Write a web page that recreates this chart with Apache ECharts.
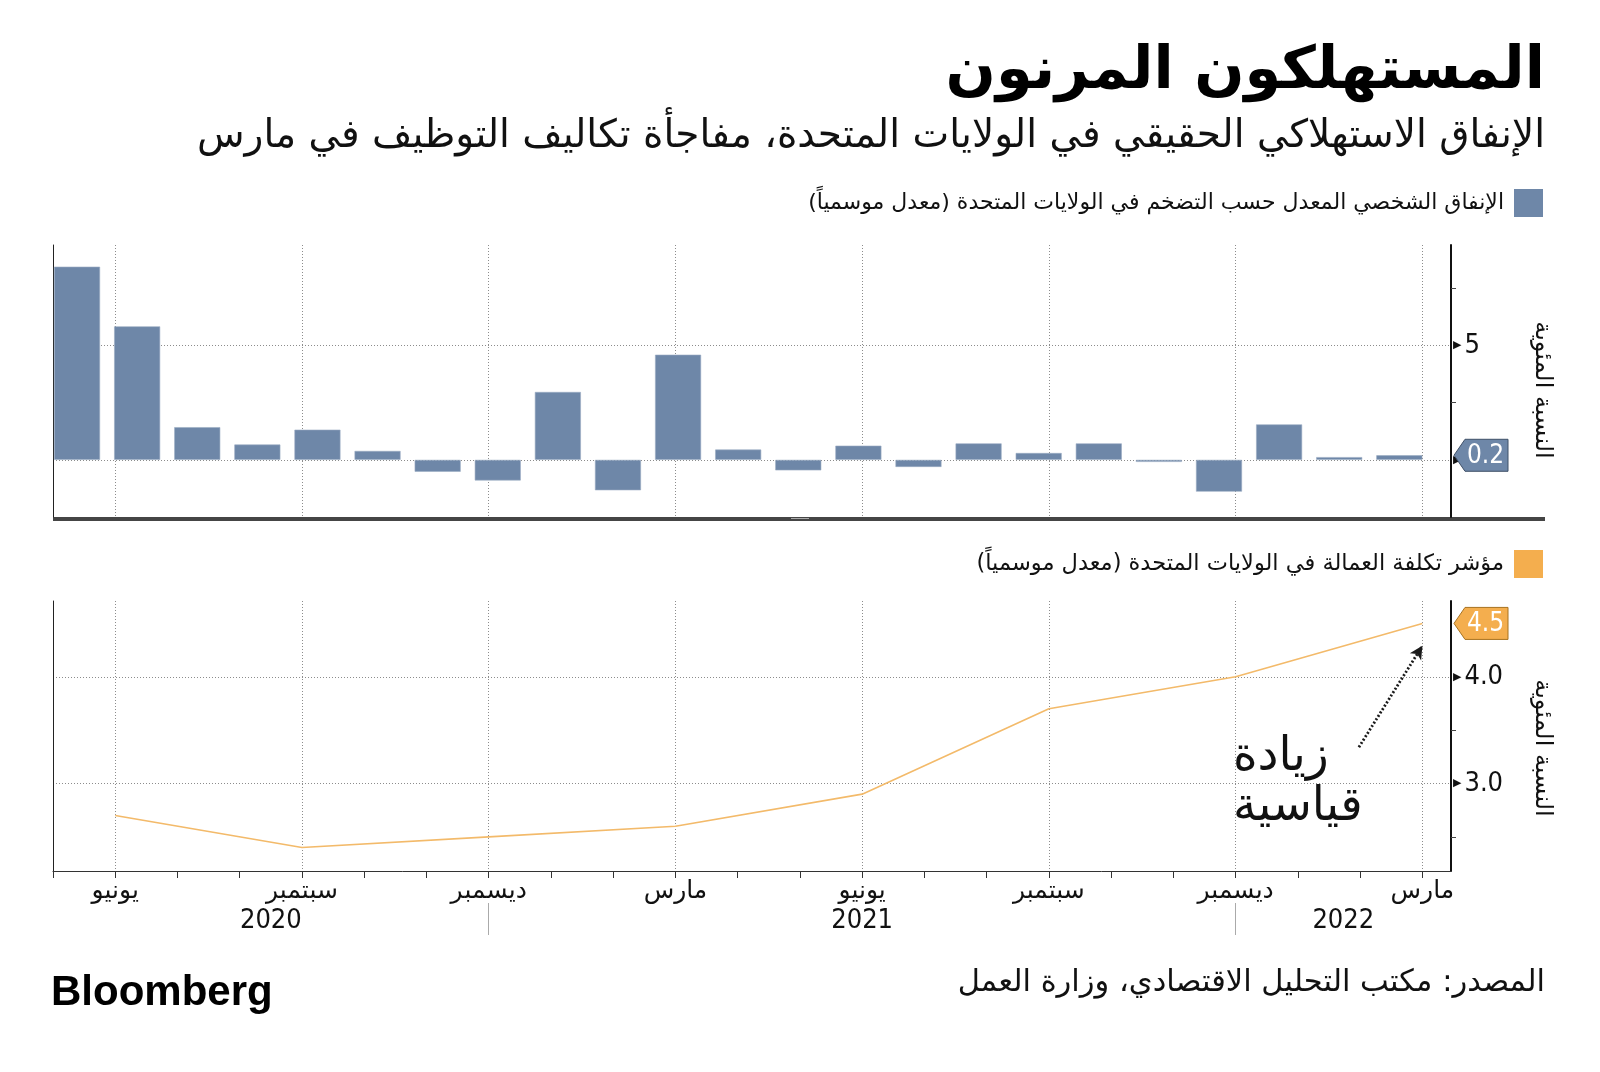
<!DOCTYPE html>
<html><head><meta charset="utf-8">
<script src="https://cdn.jsdelivr.net/npm/echarts@6/dist/echarts.min.js"></script>
<style>html,body{margin:0;padding:0;background:#fff}#c{width:1600px;height:1072px}</style>
</head><body><div id="c" dir="rtl"></div>
<script>
// ---------------- data ----------------
const barMonths = ['2020-05','2020-06','2020-07','2020-08','2020-09','2020-10','2020-11','2020-12',
  '2021-01','2021-02','2021-03','2021-04','2021-05','2021-06','2021-07','2021-08','2021-09','2021-10',
  '2021-11','2021-12','2022-01','2022-02','2022-03'];
const pceValues = [8.45, 5.84, 1.43, 0.67, 1.32, 0.39, -0.52, -0.90, 2.97, -1.33, 4.60, 0.45,
  -0.46, 0.62, -0.31, 0.72, 0.30, 0.72, -0.09, -1.39, 1.55, 0.12, 0.20];
const eciMonthIndex = [1, 4, 7, 10, 13, 16, 19, 22];   // months after May 2020
const eciValues = [2.7, 2.4, 2.5, 2.6, 2.9, 3.7, 4.0, 4.5];
const monthTicks = [0,1,2,3,4,5,6,7,8,9,10,11,12,13,14,15,16,17,18,19,20,21,22];
const quarterIdx = [1, 4, 7, 10, 13, 16, 19, 22];
const quarterLabels = ['يونيو','سبتمبر','ديسمبر','مارس','يونيو','سبتمبر','ديسمبر','مارس'];
const yearLabels = ['2020','2021','2022'];
const yearLabelPos = [3.5, 13, 20.73];
const yearBreaks = [7, 19];
const topMinorTicks = [2.5, 7.5];
const topLabelTicks = [0, 5];
const topGridLines = [0, 5];
const botMinorTicks = [2.5, 3.5];
const botLabelTicks = [3, 4];
const botGridLines = [3, 4];

// ---------------- style ----------------
const AR = "'DejaVu Sans', 'Noto Sans', sans-serif";
const NUM = "'Liberation Sans Narrow', 'DejaVu Sans Condensed', 'DejaVu Sans', sans-serif";
const BLUE = '#6E87A8';
const ORANGE = '#F4AE4E';
const GRIDC = '#8c8c8c';
const MMIN = 0, MMAX = 22.46;

const chart = echarts.init(document.getElementById('c'), null, {renderer: 'canvas'});

function dotted(show) {
  return {show: show, lineStyle: {color: GRIDC, type: [1, 2], width: 1}};
}
function hiddenX(grid, min, max, ticks) {
  return {type: 'value', gridIndex: grid, min: min, max: max, position: 'bottom',
    axisLine: {show: false, onZero: false}, axisLabel: {show: false},
    axisTick: {show: false, customValues: ticks}, splitLine: dotted(true)};
}
function hiddenY(grid, min, max, ticks) {
  return {type: 'value', gridIndex: grid, min: min, max: max, position: 'right',
    axisLine: {show: false, onZero: false}, axisLabel: {show: false},
    axisTick: {show: false, customValues: ticks}, splitLine: dotted(true)};
}
function leftY(grid, min, max) {
  return {type: 'value', gridIndex: grid, min: min, max: max, position: 'left',
    axisLine: {show: true, onZero: false, lineStyle: {color: '#222', width: 1}},
    axisLabel: {show: false}, axisTick: {show: false}, splitLine: {show: false}};
}
function rightY(grid, min, max, minor, labels, fmt) {
  return {type: 'value', gridIndex: grid, min: min, max: max, position: 'right',
    axisLine: {show: true, onZero: false, lineStyle: {color: '#111', width: 2}},
    axisTick: {show: true, customValues: minor, length: 5, lineStyle: {color: '#444', width: 1}},
    axisLabel: {show: true, customValues: labels, margin: 2, formatter: fmt,
      rich: {a: {fontSize: 11, color: '#111', fontFamily: AR, padding: [0, 3, 0, 0]},
             b: {fontSize: 27, color: '#111', fontFamily: NUM}}},
    splitLine: {show: false}};
}

function boxSeries(xi, yi, data, fill, stroke) {
  return {
    type: 'custom', xAxisIndex: xi, yAxisIndex: yi, z: 20, clip: false,
    data: data,
    renderItem: function (params, api) {
      const p = api.coord([api.value(0), api.value(1)]);
      const cs = params.coordSys;
      const x0 = cs.x + cs.width + 3, y = p[1];
      const w = 54, h = 32, d = 11;
      return {type: 'group', children: [
        {type: 'polygon', shape: {points: [[x0, y], [x0 + d, y - h / 2], [x0 + w, y - h / 2], [x0 + w, y + h / 2], [x0 + d, y + h / 2]]},
          style: {fill: fill, stroke: stroke, lineWidth: 1}},
        {type: 'text', style: {text: api.value(1).toFixed(1), x: x0 + d + (w - d) / 2 - 1, y: y + 1,
          align: 'center', verticalAlign: 'middle', fill: '#fff', font: '26px ' + NUM}}
      ]};
    }
  };
}

const option = {
  animation: false,
  backgroundColor: '#fff',
  grid: [
    {left: 53, right: 149, top: 245, bottom: 555},
    {left: 53, right: 149, top: 601, bottom: 201}
  ],
  xAxis: [
    // 0: bar index axis (top)
    {type: 'value', gridIndex: 0, min: -0.4, max: 22.86, position: 'bottom',
      axisLine: {show: false, onZero: false}, axisLabel: {show: false}, axisTick: {show: false}, splitLine: {show: false}},
    // 1: month scale gridlines (top)
    hiddenX(0, MMIN, MMAX, quarterIdx),
    // 2: month axis (bottom)
    {type: 'value', gridIndex: 1, min: MMIN, max: MMAX, position: 'bottom',
      axisLine: {show: true, onZero: false, lineStyle: {color: '#333', width: 1}},
      axisTick: {show: true, customValues: monthTicks, length: 7, lineStyle: {color: '#333'}},
      axisLabel: {show: true, customValues: quarterIdx, margin: 8, color: '#111',
        fontSize: 25, fontFamily: AR,
        formatter: function (v) { const i = quarterIdx.indexOf(Math.round(v)); return i >= 0 ? quarterLabels[i] : ''; }},
      splitLine: {show: false}},
    // 3: month gridlines (bottom)
    hiddenX(1, MMIN, MMAX, quarterIdx),
    // 4: year axis (bottom)
    {type: 'value', gridIndex: 1, min: MMIN, max: MMAX, position: 'bottom', offset: 32,
      axisLine: {show: false, onZero: false},
      axisTick: {show: true, customValues: yearBreaks, length: 32, lineStyle: {color: '#aaa', width: 1}},
      axisLabel: {show: true, customValues: yearLabelPos, margin: 4, color: '#111',
        fontSize: 27, fontFamily: NUM,
        formatter: function (v) { let best = 0; yearLabelPos.forEach((p, i) => { if (Math.abs(p - v) < Math.abs(yearLabelPos[best] - v)) best = i; }); return yearLabels[best]; }},
      splitLine: {show: false}}
  ],
  yAxis: [
    rightY(0, -2.5, 9.4, topMinorTicks, topLabelTicks, function (v) { return v === 0 ? '{a|▶}' : '{a|▶}{b|' + v + '}'; }),
    hiddenY(0, -2.5, 9.4, topGridLines),
    leftY(0, -2.5, 9.4),
    rightY(1, 2.18, 4.71, botMinorTicks, botLabelTicks, function (v) { return '{a|▶}{b|' + v.toFixed(1) + '}'; }),
    hiddenY(1, 2.18, 4.71, botGridLines),
    leftY(1, 2.18, 4.71)
  ],
  series: [
    {type: 'bar', name: 'pce', xAxisIndex: 0, yAxisIndex: 0, barWidth: 46,
      itemStyle: {color: BLUE, borderColor: '#9aabc2', borderWidth: 0.6},
      data: pceValues.map((v, i) => [i, v])},
    boxSeries(0, 0, [[pceValues.length - 1, pceValues[pceValues.length - 1]]], BLUE, '#3f5068'),
    {type: 'line', name: 'eci', xAxisIndex: 2, yAxisIndex: 3, symbol: 'none',
      lineStyle: {color: '#F3BA6A', width: 1.6},
      data: eciMonthIndex.map((m, i) => [m, eciValues[i]]),
      markLine: {silent: true, symbol: ['none', 'arrow'], symbolSize: [10, 13],
        label: {show: false},
        lineStyle: {color: '#1a1a1a', type: [2, 2], width: 2.8},
        data: [[{coord: [20.98, 3.34]}, {coord: [22, 4.29]}]]}},
    boxSeries(2, 3, [[eciMonthIndex[eciMonthIndex.length - 1], eciValues[eciValues.length - 1]]], ORANGE, '#a8721f')
  ],
  graphic: [
    {type: 'text', right: 55, top: 43, style: {text: 'المستهلكون المرنون', font: 'bold 59px ' + AR, fill: '#000'}},
    {type: 'text', right: 55, top: 117, style: {text: 'الإنفاق الاستهلاكي الحقيقي في الولايات المتحدة، مفاجأة تكاليف التوظيف في مارس', font: '39px ' + AR, fill: '#111'}},
    {type: 'rect', shape: {x: 1514, y: 189, width: 29, height: 28}, style: {fill: BLUE}},
    {type: 'text', right: 96, top: 192, style: {text: 'الإنفاق الشخصي المعدل حسب التضخم في الولايات المتحدة (معدل موسمياً)', font: '22px ' + AR, fill: '#111'}},
    {type: 'rect', shape: {x: 1514, y: 550, width: 29, height: 28}, style: {fill: ORANGE}},
    {type: 'text', right: 96, top: 553, style: {text: 'مؤشر تكلفة العمالة في الولايات المتحدة (معدل موسمياً)', font: '22.5px ' + AR, fill: '#111'}},
    {type: 'rect', shape: {x: 53, y: 517, width: 1492, height: 4}, style: {fill: '#454545'}},
    {type: 'rect', shape: {x: 791, y: 518, width: 18, height: 1}, style: {fill: '#aaa'}},
    {type: 'text', x: 1542, y: 390, rotation: -Math.PI / 2, style: {text: 'النسبة المئوية', font: '24px ' + AR, fill: '#111', align: 'center', verticalAlign: 'middle'}},
    {type: 'text', x: 1542, y: 748, rotation: -Math.PI / 2, style: {text: 'النسبة المئوية', font: '24px ' + AR, fill: '#111', align: 'center', verticalAlign: 'middle'}},
    {type: 'text', left: 1233, top: 733, style: {text: 'زيادة\nقياسية', font: '47px ' + AR, lineHeight: 50, fill: '#111', align: 'left'}},
    {type: 'text', right: 55, top: 968, style: {text: 'المصدر: مكتب التحليل الاقتصادي، وزارة العمل', font: '30.5px ' + AR, fill: '#111'}},
    {type: 'text', left: 51, top: 972, style: {text: 'Bloomberg', font: 'bold 42px "Liberation Sans", Arial, sans-serif', fill: '#000'}}
  ]
};
chart.setOption(option);
</script>
</body></html>
